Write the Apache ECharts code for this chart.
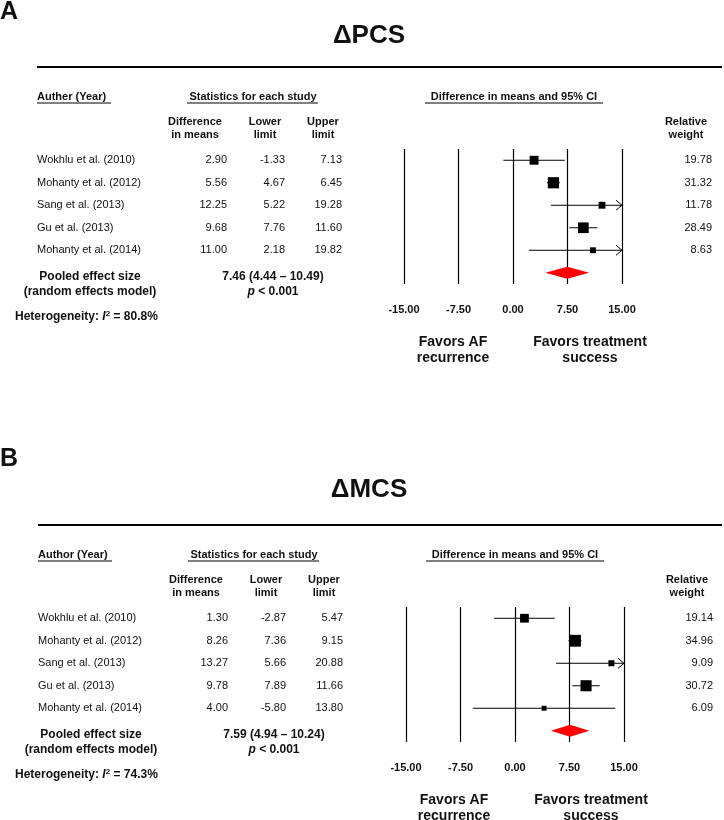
<!DOCTYPE html>
<html><head><meta charset="utf-8">
<script src="https://cdn.jsdelivr.net/npm/echarts@6/dist/echarts.min.js"></script>
<style>html,body{margin:0;padding:0;background:#fff}#c{width:724px;height:820px}</style>
</head><body><div id="c"></div><script>
const FONT = '"Liberation Sans", Arial, Helvetica, sans-serif';

// ---- data ----
const axisTicks = [-15, -7.5, 0, 7.5, 15];
const rowCats = ['r1', 'r2', 'r3', 'r4', 'r5', 'pooled'];

const pcsStudies = ['Wokhlu et al. (2010)', 'Mohanty et al. (2012)', 'Sang et al. (2013)', 'Gu et al. (2013)', 'Mohanty et al. (2014)'];
const pcsDiff   = [2.90, 5.56, 12.25, 9.68, 11.00];
const pcsLower  = [-1.33, 4.67, 5.22, 7.76, 2.18];
const pcsUpper  = [7.13, 6.45, 19.28, 11.60, 19.82];
const pcsWeight = [19.78, 31.32, 11.78, 28.49, 8.63];
const pcsPooled = [7.46, 4.44, 10.49];
const pcsHet = 80.8;

const mcsStudies = ['Wokhlu et al. (2010)', 'Mohanty et al. (2012)', 'Sang et al. (2013)', 'Gu et al. (2013)', 'Mohanty et al. (2014)'];
const mcsDiff   = [1.30, 8.26, 13.27, 9.78, 4.00];
const mcsLower  = [-2.87, 7.36, 5.66, 7.89, -5.80];
const mcsUpper  = [5.47, 9.15, 20.88, 11.66, 13.80];
const mcsWeight = [19.14, 34.96, 9.09, 30.72, 6.09];
const mcsPooled = [7.59, 4.94, 10.24];
const mcsHet = 74.3;

// ---- layout ----
const AX_MIN = axisTicks[0], AX_MAX = axisTicks[axisTicks.length - 1], AX_STEP = 7.5;
const panels = [
  {letter: 'A', title: '\u0394PCS', authorHead: 'Auther (Year)', studies: pcsStudies, diff: pcsDiff, lower: pcsLower,
   upper: pcsUpper, weight: pcsWeight, pooled: pcsPooled, het: pcsHet, dy: 0, dx: 0, gl: 404, titleY: 36, letterY: 12},
  {letter: 'B', title: '\u0394MCS', authorHead: 'Author (Year)', studies: mcsStudies, diff: mcsDiff, lower: mcsLower,
   upper: mcsUpper, weight: mcsWeight, pooled: mcsPooled, het: mcsHet, dy: 458, dx: 1, gl: 406, titleY: 490, letterY: 459}
];

function font(size, weight, style) {
  return (style || 'normal') + ' ' + (weight || 'normal') + ' ' + size + 'px ' + FONT;
}
function txt(x, y, text, size, weight, align) {
  return {type: 'text', x: x, y: y, silent: true,
    style: {text: text, fill: '#111', font: font(size, weight), textAlign: align || 'left', textVerticalAlign: 'middle'}};
}
function hline(x1, x2, y, w) {
  return {type: 'line', silent: true, shape: {x1: x1, y1: y, x2: x2, y2: y}, style: {stroke: '#000', lineWidth: w || 1}};
}

const grids = [], xAxes = [], yAxes = [], series = [], graphics = [];

panels.forEach((p, k) => {
  const dy = p.dy, dx = p.dx;
  grids.push({left: p.gl, top: 149 + dy, width: 218, height: 135});
  xAxes.push({type: 'value', gridIndex: k, min: AX_MIN, max: AX_MAX, interval: AX_STEP,
    axisLine: {show: false}, axisTick: {show: false},
    axisLabel: {margin: 20, color: '#111', fontFamily: FONT, fontSize: 11, fontWeight: 'bold',
      formatter: v => v.toFixed(2)},
    splitLine: {show: true, lineStyle: {color: '#000', width: 1.2}}});
  yAxes.push({type: 'category', gridIndex: k, data: rowCats, inverse: true, show: false,
    axisLine: {show: false}, splitLine: {show: false}});

  // CI lines + squares
  series.push({type: 'custom', xAxisIndex: k, yAxisIndex: k, clip: false, silent: true,
    encode: {x: [1, 2, 3], y: 0},
    data: p.studies.map((s, i) => [i, p.diff[i], p.lower[i], p.upper[i], p.weight[i]]),
    renderItem: function (params, api) {
      const row = api.value(0), est = api.value(1), lo = api.value(2), hi = api.value(3), w = api.value(4);
      const p0 = api.coord([Math.max(lo, AX_MIN), row]);
      const p1 = api.coord([Math.min(hi, AX_MAX), row]);
      const pc = api.coord([est, row]);
      const s = 2 * Math.sqrt(w);
      const ch = [
        {type: 'line', shape: {x1: p0[0], y1: p0[1], x2: p1[0], y2: p1[1]}, style: {stroke: '#000', lineWidth: 1}},
        {type: 'rect', shape: {x: pc[0] - s / 2, y: pc[1] - s / 2, width: s, height: s}, style: {fill: '#000'}}
      ];
      if (hi > AX_MAX) ch.push({type: 'polyline', shape: {points: [[p1[0] - 6, p1[1] - 5], [p1[0], p1[1]], [p1[0] - 6, p1[1] + 5]]},
        style: {stroke: '#000', fill: null, lineWidth: 1}});
      if (lo < AX_MIN) ch.push({type: 'polyline', shape: {points: [[p0[0] + 6, p0[1] - 5], [p0[0], p0[1]], [p0[0] + 6, p0[1] + 5]]},
        style: {stroke: '#000', fill: null, lineWidth: 1}});
      return {type: 'group', children: ch};
    }});

  // Table text per row
  series.push({type: 'custom', xAxisIndex: k, yAxisIndex: k, clip: false, silent: true,
    encode: {x: 1, y: 0},
    data: p.studies.map((s, i) => [i, 0]),
    renderItem: function (params, api) {
      const i = params.dataIndex;
      const y = api.coord([0, api.value(0)])[1];
      return {type: 'group', children: [
        txt(37 + dx, y, p.studies[i], 11),
        txt(227 + dx, y, p.diff[i].toFixed(2), 11, 'normal', 'right'),
        txt(285 + dx, y, p.lower[i].toFixed(2), 11, 'normal', 'right'),
        txt(342 + dx, y, p.upper[i].toFixed(2), 11, 'normal', 'right'),
        txt(712 + dx, y, p.weight[i].toFixed(2), 11, 'normal', 'right')
      ]};
    }});

  // Pooled diamond + pooled text
  series.push({type: 'custom', xAxisIndex: k, yAxisIndex: k, clip: false, silent: true,
    encode: {x: [1, 2, 3], y: 0},
    data: [[5, p.pooled[0], p.pooled[1], p.pooled[2]]],
    renderItem: function (params, api) {
      const row = api.value(0);
      const c = api.coord([api.value(1), row]), a = api.coord([api.value(2), row]), b = api.coord([api.value(3), row]);
      const y = c[1];
      return {type: 'group', children: [
        {type: 'polygon', shape: {points: [[a[0], y], [c[0], y - 6], [b[0], y], [c[0], y + 6]]}, style: {fill: '#ff0000'}},
        txt(90 + dx, y + 4, 'Pooled effect size', 12, 'bold', 'center'),
        txt(90 + dx, y + 19, '(random effects model)', 12, 'bold', 'center'),
        txt(273 + dx, y + 4, p.pooled[0].toFixed(2) + ' (' + p.pooled[1].toFixed(2) + ' \u2013 ' + p.pooled[2].toFixed(2) + ')', 12, 'bold', 'center'),
        {type: 'text', x: 273 + dx, y: y + 19, style: {text: '{i|p}{b| < 0.001}', textAlign: 'center', textVerticalAlign: 'middle',
          rich: {i: {fontFamily: FONT, fontSize: 12, fontWeight: 'bold', fontStyle: 'italic', fill: '#111', color: '#111'},
                 b: {fontFamily: FONT, fontSize: 12, fontWeight: 'bold', fill: '#111', color: '#111'}}}},
        {type: 'text', x: 15, y: y + 44, style: {text: '{b|Heterogeneity: }{i|I}{s|2}{b| = ' + p.het.toFixed(1) + '%}',
          textAlign: 'left', textVerticalAlign: 'middle',
          rich: {b: {fontFamily: FONT, fontSize: 12, fontWeight: 'bold', fill: '#111', color: '#111', lineHeight: 14},
                 i: {fontFamily: FONT, fontSize: 12, fontWeight: 'bold', fontStyle: 'italic', fill: '#111', color: '#111', lineHeight: 14},
                 s: {fontFamily: FONT, fontSize: 8, fontWeight: 'bold', fill: '#111', color: '#111', verticalAlign: 'top', lineHeight: 14}}}}
      ]};
    }});

  // Static labels
  graphics.push(txt(0, p.letterY, p.letter, 25, 'bold'));
  graphics.push(txt(369, p.titleY, p.title, 26, 'bold', 'center'));
  graphics.push(hline(37 + dx, 722, 67 + dy, 2));
  graphics.push(txt(37 + dx, 97 + dy, p.authorHead, 11, 'bold'));
  graphics.push(hline(37 + dx, 111 + dx, 103 + dy, 1));
  graphics.push(txt(253 + dx, 97 + dy, 'Statistics for each study', 11, 'bold', 'center'));
  graphics.push(hline(187 + dx, 318 + dx, 103 + dy, 1));
  graphics.push(txt(514 + dx, 97 + dy, 'Difference in means and 95% CI', 11, 'bold', 'center'));
  graphics.push(hline(425 + dx, 603 + dx, 103 + dy, 1));
  graphics.push(txt(195 + dx, 122 + dy, 'Difference', 11, 'bold', 'center'));
  graphics.push(txt(195 + dx, 135 + dy, 'in means', 11, 'bold', 'center'));
  graphics.push(txt(265 + dx, 122 + dy, 'Lower', 11, 'bold', 'center'));
  graphics.push(txt(265 + dx, 135 + dy, 'limit', 11, 'bold', 'center'));
  graphics.push(txt(323 + dx, 122 + dy, 'Upper', 11, 'bold', 'center'));
  graphics.push(txt(323 + dx, 135 + dy, 'limit', 11, 'bold', 'center'));
  graphics.push(txt(686 + dx, 122 + dy, 'Relative', 11, 'bold', 'center'));
  graphics.push(txt(686 + dx, 135 + dy, 'weight', 11, 'bold', 'center'));
  graphics.push(txt(453 + dx, 342 + dy, 'Favors AF', 14, 'bold', 'center'));
  graphics.push(txt(453 + dx, 358 + dy, 'recurrence', 14, 'bold', 'center'));
  graphics.push(txt(590 + dx, 342 + dy, 'Favors treatment', 14, 'bold', 'center'));
  graphics.push(txt(590 + dx, 358 + dy, 'success', 14, 'bold', 'center'));
});

const chart = echarts.init(document.getElementById('c'), null, {renderer: 'canvas'});
chart.setOption({
  animation: false,
  backgroundColor: '#fff',
  grid: grids,
  xAxis: xAxes,
  yAxis: yAxes,
  series: series,
  graphic: {elements: graphics}
});
</script></body></html>
